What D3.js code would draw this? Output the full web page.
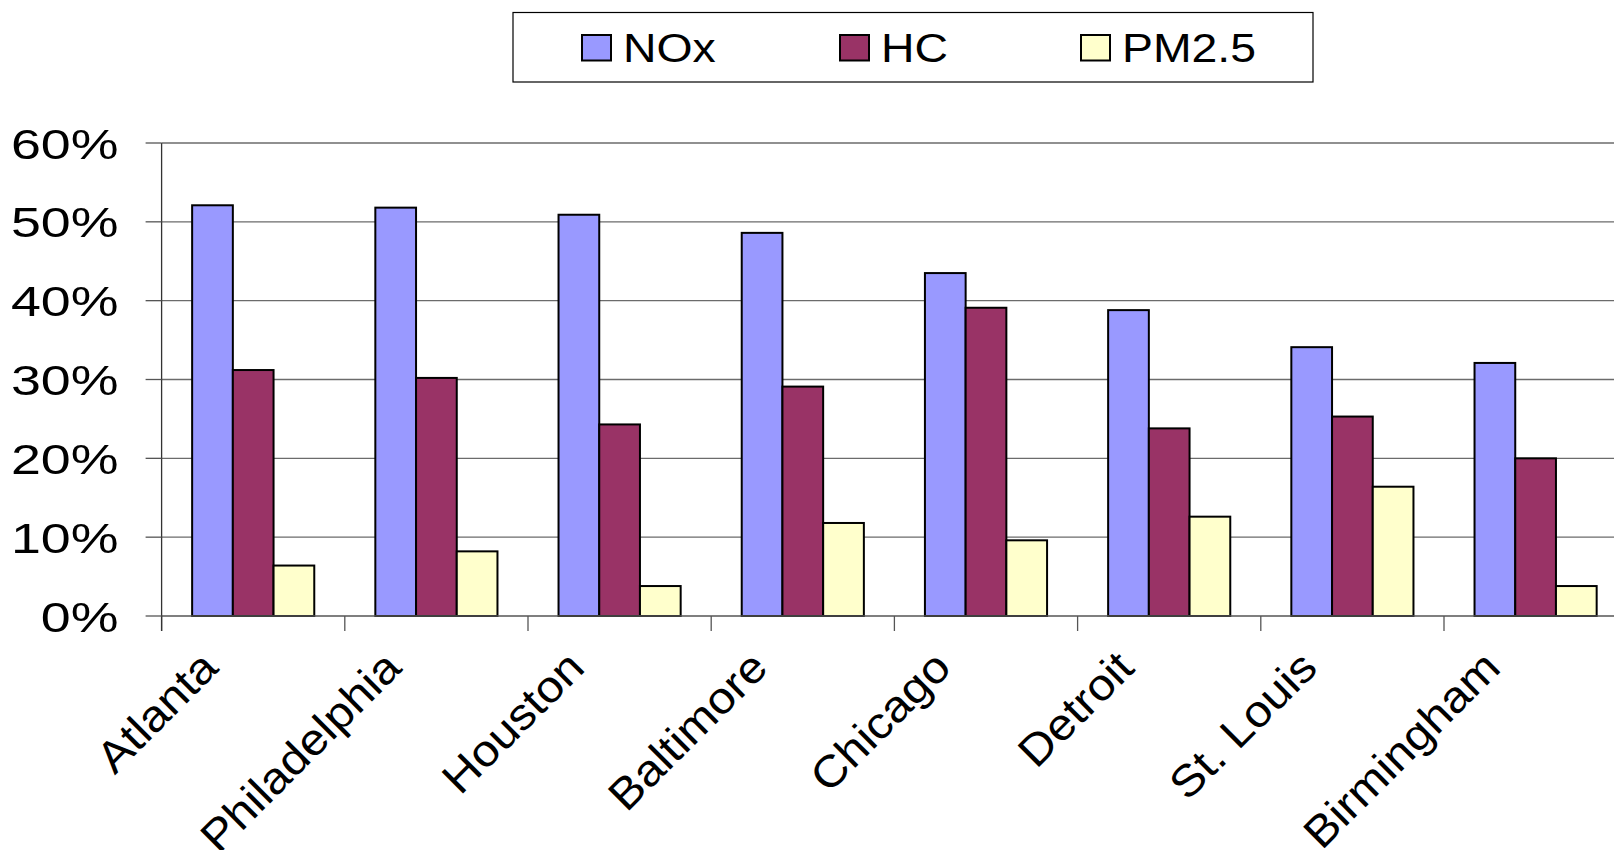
<!DOCTYPE html>
<html>
<head>
<meta charset="utf-8">
<script src="https://cdn.jsdelivr.net/npm/d3@7"></script>
<style>
  html, body { margin: 0; padding: 0; background: #fff; }
  svg { display: block; }
  text { font-family: "Liberation Sans", Arial, sans-serif; fill: #000; }
</style>
</head>
<body>
<svg id="chart" width="1614" height="850"></svg>
<script>
// Share of emissions by city and pollutant
const cities = ["Atlanta", "Philadelphia", "Houston", "Baltimore", "Chicago", "Detroit", "St. Louis", "Birmingham"];
const seriesNames = ["NOx", "HC", "PM2.5"];
const noxValues = [0.521, 0.518, 0.509, 0.486, 0.435, 0.388, 0.341, 0.321];
const hcValues  = [0.312, 0.302, 0.243, 0.291, 0.391, 0.238, 0.253, 0.200];
const pmValues  = [0.064, 0.082, 0.038, 0.118, 0.096, 0.126, 0.164, 0.038];
const yTicks = [0, 0.1, 0.2, 0.3, 0.4, 0.5, 0.6];
const colors = ["#9999FF", "#993366", "#FFFFCC"];

const seriesValues = [noxValues, hcValues, pmValues];

const svg = d3.select("#chart");
const W = 1614, H = 850;
svg.append("rect").attr("width", W).attr("height", H).attr("fill", "#fff");

// Plot area (extends slightly past the right edge of the canvas)
const plotLeft = 161.6, step = 183.2;
const plotRight = plotLeft + step * cities.length;
const plotTop = 143, plotBottom = 616;

const x0 = d3.scaleBand()
  .domain(cities)
  .range([plotLeft, plotRight])
  .paddingInner(1 / 3)
  .paddingOuter(1 / 6);

const x1 = d3.scaleBand()
  .domain(seriesNames)
  .range([0, x0.bandwidth()])
  .padding(0);

const y = d3.scaleLinear().domain([0, 0.6]).range([plotBottom, plotTop]);
const pct = d3.format(".0%");

// Horizontal gridlines
svg.append("g")
  .selectAll("line")
  .data(yTicks.filter(d => d > 0))
  .join("line")
  .attr("x1", plotLeft).attr("x2", plotRight)
  .attr("y1", d => y(d)).attr("y2", d => y(d))
  .attr("stroke", "#6b6b6b")
  .attr("stroke-width", 1.3);

// Bars
const groups = svg.append("g")
  .selectAll("g")
  .data(cities)
  .join("g")
  .attr("transform", d => `translate(${x0(d)},0)`);

groups.selectAll("rect")
  .data((city, i) => seriesNames.map((s, k) => ({ s, k, v: seriesValues[k][i] })))
  .join("rect")
  .attr("x", d => x1(d.s))
  .attr("y", d => y(d.v))
  .attr("width", x1.bandwidth())
  .attr("height", d => y(0) - y(d.v))
  .attr("fill", d => colors[d.k])
  .attr("stroke", "#000")
  .attr("stroke-width", 2);

// X axis baseline and category separators
svg.append("line")
  .attr("x1", plotLeft).attr("x2", plotRight)
  .attr("y1", plotBottom).attr("y2", plotBottom)
  .attr("stroke", "#555").attr("stroke-width", 1.3);

const boundaries = d3.range(cities.length + 1).map(i => plotLeft + i * x0.step());
svg.append("g")
  .selectAll("line")
  .data(boundaries)
  .join("line")
  .attr("x1", d => d).attr("x2", d => d)
  .attr("y1", plotBottom).attr("y2", plotBottom + 15)
  .attr("stroke", "#555").attr("stroke-width", 1.3);

// Y axis with outward ticks
const yAxis = svg.append("g");
yAxis.append("line")
  .attr("x1", plotLeft).attr("x2", plotLeft)
  .attr("y1", plotTop).attr("y2", plotBottom + 15)
  .attr("stroke", "#333").attr("stroke-width", 1.3);
yAxis.selectAll("line.tick")
  .data(yTicks)
  .join("line")
  .attr("class", "tick")
  .attr("x1", plotLeft - 16).attr("x2", plotLeft)
  .attr("y1", d => y(d)).attr("y2", d => y(d))
  .attr("stroke", "#555").attr("stroke-width", 1.3);

yAxis.selectAll("text")
  .data(yTicks)
  .join("text")
  .attr("transform", d => `translate(118.5,${y(d) + 15.5}) scale(1.25,1)`)
  .attr("text-anchor", "end")
  .attr("font-size", 43)
  .text(d => pct(d));

// Rotated category labels
svg.append("g")
  .selectAll("text")
  .data(cities)
  .join("text")
  .attr("transform", d => {
    const cx = x0(d) + x0.bandwidth() / 2;
    return `translate(${cx - 33},${plotBottom + 54}) rotate(-45) scale(1.09,1)`;
  })
  .attr("text-anchor", "end")
  .attr("font-size", 44)
  .text(d => d);

// Legend
const legend = svg.append("g");
legend.append("rect")
  .attr("x", 513).attr("y", 12.5)
  .attr("width", 800).attr("height", 69.5)
  .attr("fill", "#fff")
  .attr("stroke", "#000").attr("stroke-width", 1.2);

const legendX = [582, 840, 1081];
const item = legend.selectAll("g.item")
  .data(seriesNames)
  .join("g")
  .attr("class", "item")
  .attr("transform", (d, i) => `translate(${legendX[i]},35)`);

item.append("rect")
  .attr("width", 29).attr("height", 25.5)
  .attr("fill", (d, i) => colors[i])
  .attr("stroke", "#000").attr("stroke-width", 2);

item.append("text")
  .attr("transform", "translate(41,26.5) scale(1.16,1)")
  .attr("font-size", 40)
  .text(d => d);
</script>
</body>
</html>
